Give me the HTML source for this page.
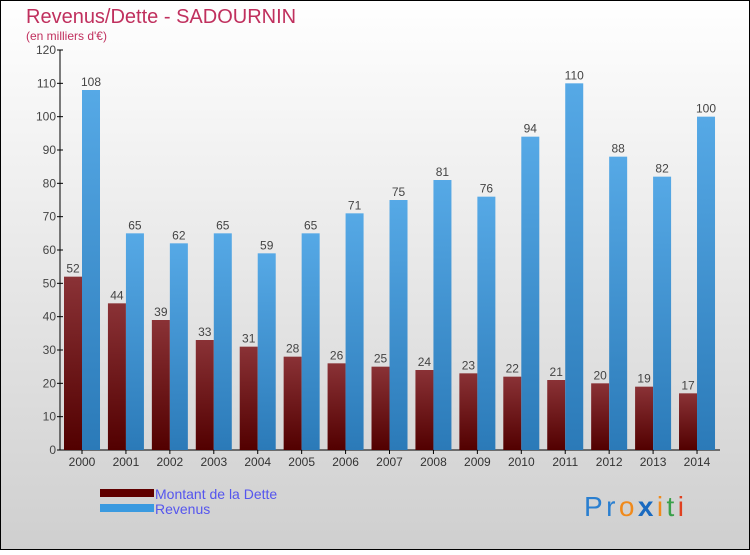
<!DOCTYPE html>
<html><head><meta charset="utf-8"><style>
html,body{margin:0;padding:0;}
body{width:750px;height:550px;overflow:hidden;font-family:"Liberation Sans",sans-serif;}
</style></head><body>
<svg width="750" height="550" viewBox="0 0 750 550" xmlns="http://www.w3.org/2000/svg">
<defs>
<linearGradient id="bg" x1="0" y1="0" x2="0" y2="1"><stop offset="0" stop-color="#ffffff"/><stop offset="1" stop-color="#cfcfcf"/></linearGradient>
<linearGradient id="gd" x1="0" y1="0" x2="0" y2="1"><stop offset="0" stop-color="#8a3236"/><stop offset="1" stop-color="#520000"/></linearGradient>
<linearGradient id="gr" x1="0" y1="0" x2="0" y2="1"><stop offset="0" stop-color="#56a9e6"/><stop offset="1" stop-color="#2b7ab8"/></linearGradient>
</defs>
<rect x="0.5" y="0.5" width="749" height="549" fill="url(#bg)" stroke="#000"/>
<text x="26" y="23" font-size="20" fill="#c0305e">Revenus/Dette - SADOURNIN</text>
<text x="26" y="40" font-size="12" fill="#c0305e">(en milliers d'€)</text>
<g id="axes"></g>
<g id="bars"></g>
<g>
<rect x="100" y="489" width="54" height="8" fill="#600000"/>
<text x="155" y="499" font-size="14" fill="#5555ee">Montant de la Dette</text>
<rect x="100" y="504" width="54" height="8" fill="#3a9ae0"/>
<text x="155" y="514" font-size="14" fill="#5555ee">Revenus</text>
</g>
<text x="584" y="516" font-size="28" textLength="100"><tspan fill="#2a7fd0">Pr</tspan><tspan fill="#f08a1c">o</tspan><tspan fill="#1a6ac0" font-weight="bold">x</tspan><tspan fill="#f08a1c">i</tspan><tspan fill="#3aa04a">t</tspan><tspan fill="#e04020">i</tspan></text>
</svg>
<script>
const years=["2000","2001","2002","2003","2004","2005","2006","2007","2008","2009","2010","2011","2012","2013","2014"];
const dette=[52,44,39,33,31,28,26,25,24,23,22,21,20,19,17];
const revenus=[108,65,62,65,59,65,71,75,81,76,94,110,88,82,100];
const yTicks=[0,10,20,30,40,50,60,70,80,90,100,110,120];
const NS="http://www.w3.org/2000/svg";
const x0=60,yBase=450,yTop=50,yMax=120,step=43.93,firstCenter=82,bw=18;
const yS=v=>yBase-(v/yMax)*(yBase-yTop);
const xC=i=>firstCenter+i*step;
function mk(tag,attrs,parent){const e=document.createElementNS(NS,tag);for(const k in attrs)e.setAttribute(k,attrs[k]);parent.appendChild(e);return e;}
const ax=document.getElementById('axes'),bars=document.getElementById('bars');
let l=mk('line',{x1:x0,y1:yTop,x2:x0,y2:yBase,stroke:'#000'},ax);


l=mk('line',{x1:x0,y1:yBase,x2:720,y2:yBase,stroke:'#000'},ax);


yTicks.forEach(v=>{
 const t=mk('line',{x1:x0-3,y1:yS(v),x2:x0+3,y2:yS(v),stroke:'#000'},ax);
 
 
 const tx=mk('text',{x:x0-4,y:yS(v)+4,'font-size':12,fill:'#444','text-anchor':'end'},ax);
 tx.textContent=v;
 
 
});
years.forEach((y,i)=>{
 const c=xC(i);
 const tk=mk('line',{x1:c,y1:yBase,x2:c,y2:yBase+4,stroke:'#000'},ax);
 
 
 const tx=mk('text',{x:c,y:yBase+16,'font-size':12,fill:'#333','text-anchor':'middle'},ax);
 tx.textContent=y;
 
 
 const b1=mk('rect',{x:c-bw,y:yS(dette[i]),width:bw,height:yBase-yS(dette[i]),fill:'url(#gd)'},bars);
 
 
 const b2=mk('rect',{x:c,y:yS(revenus[i]),width:bw,height:yBase-yS(revenus[i]),fill:'url(#gr)'},bars);
 
 
 const v1=mk('text',{x:c-bw/2,y:yS(dette[i])-4,'font-size':12,fill:'#444','text-anchor':'middle'},bars);
 v1.textContent=dette[i];
 
 
 const v2=mk('text',{x:c+bw/2,y:yS(revenus[i])-4,'font-size':12,fill:'#444','text-anchor':'middle'},bars);
 v2.textContent=revenus[i];
 
 
});
</script>
</body></html>
